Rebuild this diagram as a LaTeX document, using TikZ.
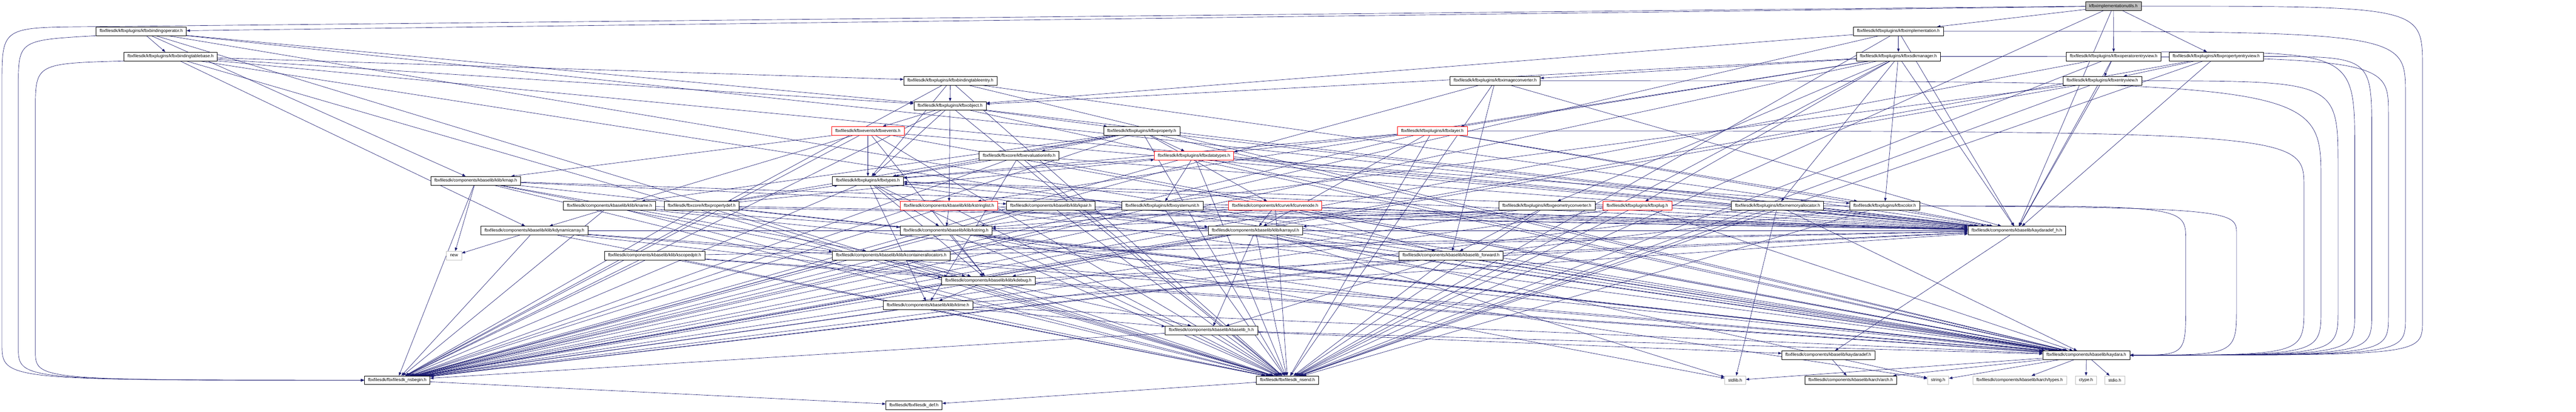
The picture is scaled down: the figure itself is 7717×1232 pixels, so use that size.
\documentclass[tikz,border=0pt]{standalone}
\usepackage{fontspec}
\setmainfont{Liberation Sans}
\usetikzlibrary{arrows.meta}
\pgfdeclarelayer{paper}
\pgfdeclarelayer{edges}
\pgfsetlayers{paper,edges,main}
\definecolor{edgeblue}{HTML}{191970}
\definecolor{sysgray}{HTML}{BFBFBF}

\begin{document}
\begin{tikzpicture}[x=1pt,y=-1pt,
  >={Triangle[length=10pt,width=7.5pt]},
  hfile/.style={draw=black, fill=white, line width=1pt, inner xsep=11pt, inner ysep=0pt,
    minimum height=26pt, font=\fontsize{12.9}{14}\selectfont},
  redfile/.style={hfile, draw=red},
  sysfile/.style={hfile, draw=sysgray},
  rootfile/.style={hfile, fill=sysgray}]

            \begin{pgfonlayer}{paper}
            \fill[white] (0,0) rectangle (7717,1232);
            \end{pgfonlayer}
            \useasboundingbox (0,0) rectangle (7717,1232);

            % row 0 - 2
            \node[rootfile] (root) at (6331,18.5) {kfbximplementationutils.h};
            \node[hfile] (bindop) at (423,93.5) {fbxfilesdk/kfbxplugins/kfbxbindingoperator.h};
            \node[hfile] (impl) at (5687,93.5) {fbxfilesdk/kfbxplugins/kfbximplementation.h};
            \node[hfile] (tablebase) at (511,169) {fbxfilesdk/kfbxplugins/kfbxbindingtablebase.h};
            \node[hfile] (sdkman) at (5687,169) {fbxfilesdk/kfbxplugins/kfbxsdkmanager.h};
            \node[hfile] (opview) at (6332,169) {fbxfilesdk/kfbxplugins/kfbxoperatorentryview.h};
            \node[hfile] (propview) at (6639,169) {fbxfilesdk/kfbxplugins/kfbxpropertyentryview.h};

            % row 3 - 7
            \node[hfile] (tableentry) at (2847,242) {fbxfilesdk/kfbxplugins/kfbxbindingtableentry.h};
            \node[hfile] (imgconv) at (4479,242) {fbxfilesdk/kfbxplugins/kfbximageconverter.h};
            \node[hfile] (entryview) at (6298,242) {fbxfilesdk/kfbxplugins/kfbxentryview.h};
            \node[hfile] (object) at (2846,317) {fbxfilesdk/kfbxplugins/kfbxobject.h};
            \node[redfile] (events) at (2600,392) {fbxfilesdk/kfbxevents/kfbxevents.h};
            \node[hfile] (property) at (3420,392) {fbxfilesdk/kfbxplugins/kfbxproperty.h};
            \node[redfile] (layer) at (4291,392) {fbxfilesdk/kfbxplugins/kfbxlayer.h};
            \node[hfile] (evalinfo) at (3053,466) {fbxfilesdk/fbxcore/kfbxevaluationinfo.h};
            \node[redfile] (datatypes) at (3577,466) {fbxfilesdk/kfbxplugins/kfbxdatatypes.h};
            \node[hfile] (kmap) at (1425,541) {fbxfilesdk/components/kbaselib/klib/kmap.h};
            \node[hfile] (types) at (2600,541) {fbxfilesdk/kfbxplugins/kfbxtypes.h};

            % row 8
            \node[hfile] (kname) at (1826,616) {fbxfilesdk/components/kbaselib/klib/kname.h};
            \node[hfile] (propdef) at (2102,616) {fbxfilesdk/fbxcore/kfbxpropertydef.h};
            \node[redfile] (stringlist) at (2843,616) {fbxfilesdk/components/kbaselib/klib/kstringlist.h};
            \node[hfile] (kpair) at (3148,616) {fbxfilesdk/components/kbaselib/klib/kpair.h};
            \node[hfile] (sysunit) at (3482,616) {fbxfilesdk/kfbxplugins/kfbxsystemunit.h};
            \node[redfile] (curvenode) at (3820,616) {fbxfilesdk/components/kfcurve/kfcurvenode.h};
            \node[hfile] (geomconv) at (4634,616) {fbxfilesdk/kfbxplugins/kfbxgeometryconverter.h};
            \node[redfile] (plug) at (4905,616) {fbxfilesdk/kfbxplugins/kfbxplug.h};
            \node[hfile] (memalloc) at (5325,616) {fbxfilesdk/kfbxplugins/kfbxmemoryallocator.h};
            \node[hfile] (color) at (5646,616) {fbxfilesdk/kfbxplugins/kfbxcolor.h};

            % row 9 - 13
            \node[hfile] (dynarray) at (1601,690) {fbxfilesdk/components/kbaselib/klib/kdynamicarray.h};
            \node[hfile] (kstring) at (2834,690) {fbxfilesdk/components/kbaselib/klib/kstring.h};
            \node[hfile] (arrayul) at (3761,690) {fbxfilesdk/components/kbaselib/klib/karrayul.h};
            \node[hfile] (kaydaradefh) at (6042,690) {fbxfilesdk/components/kbaselib/kaydaradef\_h.h};
            \node[sysfile] (new) at (1360,765) {new};
            \node[hfile] (scopedptr) at (1961,765) {fbxfilesdk/components/kbaselib/klib/kscopedptr.h};
            \node[hfile] (contalloc) at (2670,765) {fbxfilesdk/components/kbaselib/klib/kcontainerallocators.h};
            \node[hfile] (forward) at (4347,765) {fbxfilesdk/components/kbaselib/kbaselib\_forward.h};
            \node[hfile] (kdebug) at (2961,840) {fbxfilesdk/components/kbaselib/klib/kdebug.h};
            \node[hfile] (ktime) at (2780,914) {fbxfilesdk/components/kbaselib/klib/ktime.h};
            \node[hfile] (baselibh) at (3629,989) {fbxfilesdk/components/kbaselib/kbaselib\_h.h};

            % row 14 - 16
            \node[hfile] (kaydaradef) at (5477,1063) {fbxfilesdk/components/kbaselib/kaydaradef.h};
            \node[hfile] (kaydara) at (6250,1063) {fbxfilesdk/components/kbaselib/kaydara.h};
            \node[hfile] (nsbegin) at (1190,1138) {fbxfilesdk/fbxfilesdk\_nsbegin.h};
            \node[hfile] (nsend) at (3857,1138) {fbxfilesdk/fbxfilesdk\_nsend.h};
            \node[sysfile] (stdlib) at (5198,1138) {stdlib.h};
            \node[hfile] (arch) at (5544,1138) {fbxfilesdk/components/kbaselib/karch/arch.h};
            \node[sysfile] (string) at (5806,1138) {string.h};
            \node[sysfile] (archtypes) at (6050,1138) {fbxfilesdk/components/kbaselib/karch/types.h};
            \node[sysfile] (ctype) at (6249,1138) {ctype.h};
            \node[sysfile] (stdio) at (6335,1138) {stdio.h};
            \node[hfile] (fbxdef) at (2738,1213) {fbxfilesdk/fbxfilesdk\_def.h};

            \begin{pgfonlayer}{edges}
            \begin{scope}[edgeblue, line width=1pt]
            % long edges round the right side into kaydara.h
            \draw[->] (root.east) .. controls (7257,18.5) .. (7257,200) -- (7257,960) .. controls (7257,1063) .. (kaydara.east);
            \draw[->] (impl.east) .. controls (7206,93.5) .. (7206,280) -- (7206,950) .. controls (7206,1063) .. (kaydara.east);
            \draw[->] (sdkman.east) .. controls (7155,169) .. (7155,340) -- (7155,945) .. controls (7155,1063) .. (kaydara.east);
            \draw[->] (propview.east) .. controls (7105,169) .. (7105,400) -- (7105,940) .. controls (7105,1063) .. (kaydara.east);
            \draw[->] (opview.north east) .. controls (7054,156) .. (7054,450) -- (7054,935) .. controls (7054,1063) .. (kaydara.east);
            \draw[->] (entryview.east) .. controls (7004,242) .. (7004,500) -- (7004,930) .. controls (7004,1063) .. (kaydara.east);
            \draw[->] (imgconv.east) .. controls (6953,242) .. (6953,540) -- (6953,925) .. controls (6953,1063) .. (kaydara.east);
            \draw[->] (layer.east) .. controls (6902,392) .. (6902,560) -- (6902,920) .. controls (6902,1063) .. (kaydara.east);
            \draw[->] (geomconv.east) .. controls (6700,616) .. (6700,700) -- (6700,915) .. controls (6700,1063) .. (kaydara.east);
            \draw[->] (color.east) .. controls (6548,616) .. (6548,720) -- (6548,910) .. controls (6548,1063) .. (kaydara.east);
            % long edges round the left side into fbxfilesdk_nsbegin.h
            \draw[->] (root.west) -- (260,80) .. controls (6,82) .. (6,250) -- (6,1030) .. controls (6,1138) .. (nsbegin.west);
            \draw[->] (bindop.south west) .. controls (55,120) .. (55,260) -- (55,1040) .. controls (55,1138) .. (nsbegin.west);
            \draw[->] (tablebase.south west) .. controls (106,190) .. (106,330) -- (106,1050) .. controls (106,1138) .. (nsbegin.west);
            % kfbximplementationutils.h
            \draw[->] (root) -- (impl);
            \draw[->] (root) -- (bindop);
            \draw[->] (root) -- (opview);
            \draw[->] (root) -- (propview);
            \draw[->] (root) -- (kaydaradefh);
            \draw[->] (root) -- (nsend);
            % kfbximplementation.h
            \draw[->] (impl) -- (sdkman);
            \draw[->] (impl) -- (object);
            \draw[->] (impl) -- (kaydaradefh);
            \draw[->] (impl) -- (nsbegin);
            \draw[->] (impl) -- (nsend);
            % kfbxbindingoperator.h
            \draw[->] (bindop) -- (tablebase);
            \draw[->] (bindop) -- (object);
            \draw[->] (bindop) -- (kmap);
            \draw[->] (bindop) -- (kaydaradefh);
            \draw[->] (bindop) -- (kaydara);
            \draw[->] (bindop) -- (nsend);
            % kfbxbindingtablebase.h
            \draw[->] (tablebase) -- (tableentry);
            \draw[->] (tablebase) -- (object);
            \draw[->] (tablebase) -- (dynarray);
            \draw[->] (tablebase) -- (kaydaradefh);
            \draw[->] (tablebase) -- (kaydara);
            \draw[->] (tablebase) -- (nsend);
            % kfbxsdkmanager.h
            \draw[->] (sdkman) -- (object);
            \draw[->] (sdkman) -- (imgconv);
            \draw[->] (sdkman) -- (layer);
            \draw[->] (sdkman) -- (geomconv);
            \draw[->] (sdkman) -- (plug);
            \draw[->] (sdkman) -- (memalloc);
            \draw[->] (sdkman) -- (color);
            \draw[->] (sdkman) -- (stringlist);
            \draw[->] (sdkman) -- (kaydaradefh);
            \draw[->] (sdkman) -- (nsbegin);
            \draw[->] (sdkman) -- (nsend);
            % entry views
            \draw[->] (opview) -- (entryview);
            \draw[->] (opview) -- (kaydaradefh);
            \draw[->] (opview) -- (nsbegin);
            \draw[->] (opview) -- (nsend);
            \draw[->] (propview) -- (entryview);
            \draw[->] (propview) -- (kaydaradefh);
            \draw[->] (propview) -- (nsbegin);
            \draw[->] (propview) -- (nsend);
            \draw[->] (entryview) -- (kstring);
            \draw[->] (entryview) -- (kaydaradefh);
            \draw[->] (entryview) -- (nsbegin);
            \draw[->] (entryview) -- (nsend);
            % kfbxbindingtableentry.h
            \draw[->] (tableentry) -- (object);
            \draw[->] (tableentry) -- (types);
            \draw[->] (tableentry) -- (kaydaradefh);
            \draw[->] (tableentry) -- (kaydara);
            \draw[->] (tableentry) -- (nsbegin);
            \draw[->] (tableentry) -- (nsend);
            % kfbximageconverter.h
            \draw[->] (imgconv) -- (forward);
            \draw[->] (imgconv) -- (kaydaradefh);
            \draw[->] (imgconv) -- (nsbegin);
            \draw[->] (imgconv) -- (nsend);
            % kfbxobject.h
            \draw[->] (object) -- (events);
            \draw[->] (object) -- (property);
            \draw[->] (object) -- (stringlist);
            \draw[->] (object) -- (types);
            \draw[->] (object) -- (kaydaradefh);
            \draw[->] (object) -- (kaydara);
            \draw[->] (object) -- (nsbegin);
            \draw[->] (object) -- (nsend);
            % kfbxevents.h
            \draw[->] (events) -- (types);
            \draw[->] (events) -- (kmap);
            \draw[->] (events) -- (dynarray);
            \draw[->] (events) -- (kdebug);
            \draw[->] (events) -- (kaydaradefh);
            \draw[->] (events) -- (kaydara);
            \draw[->] (events) -- (nsbegin);
            \draw[->] (events) -- (nsend);
            % kfbxproperty.h
            \draw[->] (property) -- (evalinfo);
            \draw[->] (property) -- (datatypes);
            \draw[->] (property) -- (propdef);
            \draw[->] (property) -- (kname);
            \draw[->] (property) -- (curvenode);
            \draw[->] (property) -- (types);
            \draw[->] (property) -- (kaydaradefh);
            \draw[->] (property) -- (kaydara);
            \draw[->] (property) -- (nsbegin);
            \draw[->] (property) -- (nsend);
            % kfbxlayer.h
            \draw[->] (layer) -- (datatypes);
            \draw[->] (layer) -- (arrayul);
            \draw[->] (layer) -- (types);
            \draw[->] (layer) -- (color);
            \draw[->] (layer) -- (kaydaradefh);
            \draw[->] (layer) -- (nsbegin);
            \draw[->] (layer) -- (nsend);
            % kfbxevaluationinfo.h
            \draw[->] (evalinfo) -- (types);
            \draw[->] (evalinfo) -- (ktime);
            \draw[->] (evalinfo) -- (kaydaradefh);
            \draw[->] (evalinfo) -- (kaydara);
            \draw[->] (evalinfo) -- (nsbegin);
            \draw[->] (evalinfo) -- (nsend);
            % kfbxdatatypes.h
            \draw[->] (datatypes) -- (types);
            \draw[->] (datatypes) -- (sysunit);
            \draw[->] (datatypes) -- (color);
            \draw[->] (datatypes) -- (kaydaradefh);
            \draw[->] (datatypes) -- (kaydara);
            \draw[->] (datatypes) -- (nsbegin);
            \draw[->] (datatypes) -- (nsend);
            % kmap.h
            \draw[->] (kmap) -- (new);
            \draw[->] (kmap) -- (kpair);
            \draw[->] (kmap) -- (contalloc);
            \draw[->] (kmap) -- (kdebug);
            \draw[->] (kmap) -- (kaydaradefh);
            \draw[->] (kmap) -- (kaydara);
            \draw[->] (kmap) -- (nsbegin);
            \draw[->] (kmap) -- (nsend);
            % kfbxtypes.h
            \draw[->] (types) -- (kstring);
            \draw[->] (types) -- (ktime);
            \draw[->] (types) -- (kdebug);
            \draw[->] (types) -- (kaydaradefh);
            \draw[->] (types) -- (kaydara);
            \draw[->] (types) -- (nsbegin);
            \draw[->] (types) -- (nsend);
            % kname.h, kfbxpropertydef.h
            \draw[->] (kname) -- (kstring);
            \draw[->] (kname) -- (kaydaradefh);
            \draw[->] (kname) -- (kaydara);
            \draw[->] (kname) -- (nsbegin);
            \draw[->] (kname) -- (nsend);
            \draw[->] (propdef) -- (types);
            \draw[->] (propdef) -- (datatypes);
            \draw[->] (propdef) -- (kaydaradefh);
            \draw[->] (propdef) -- (kaydara);
            \draw[->] (propdef) -- (nsbegin);
            \draw[->] (propdef) -- (nsend);
            % kstringlist.h, kpair.h, kfbxsystemunit.h
            \draw[->] (stringlist) -- (kstring);
            \draw[->] (stringlist) -- (arrayul);
            \draw[->] (stringlist) -- (kaydaradefh);
            \draw[->] (stringlist) -- (kaydara);
            \draw[->] (stringlist) -- (nsbegin);
            \draw[->] (stringlist) -- (nsend);
            \draw[->] (kpair) -- (kaydaradefh);
            \draw[->] (kpair) -- (kaydara);
            \draw[->] (kpair) -- (nsbegin);
            \draw[->] (kpair) -- (nsend);
            \draw[->] (sysunit) -- (types);
            \draw[->] (sysunit) -- (kaydaradefh);
            \draw[->] (sysunit) -- (kaydara);
            \draw[->] (sysunit) -- (nsbegin);
            \draw[->] (sysunit) -- (nsend);
            % kfcurvenode.h, kfbxgeometryconverter.h
            \draw[->] (curvenode) -- (arrayul);
            \draw[->] (curvenode) -- (forward);
            \draw[->] (curvenode) -- (kstring);
            \draw[->] (curvenode) -- (kaydaradefh);
            \draw[->] (curvenode) -- (kaydara);
            \draw[->] (curvenode) -- (nsbegin);
            \draw[->] (curvenode) -- (nsend);
            \draw[->] (geomconv) -- (arrayul);
            \draw[->] (geomconv) -- (forward);
            \draw[->] (geomconv) -- (kaydaradefh);
            \draw[->] (geomconv) -- (nsbegin);
            \draw[->] (geomconv) -- (nsend);
            % kfbxplug.h, kfbxmemoryallocator.h, kfbxcolor.h
            \draw[->] (plug) -- (kstring);
            \draw[->] (plug) -- (types);
            \draw[->] (plug) -- (kaydaradefh);
            \draw[->] (plug) -- (kaydara);
            \draw[->] (plug) -- (nsbegin);
            \draw[->] (plug) -- (nsend);
            \draw[->] (memalloc) -- (stdlib);
            \draw[->] (memalloc) -- (kaydaradefh);
            \draw[->] (memalloc) -- (kaydara);
            \draw[->] (memalloc) -- (nsbegin);
            \draw[->] (memalloc) -- (nsend);
            \draw[->] (color) -- (kaydaradefh);
            \draw[->] (color) -- (nsbegin);
            \draw[->] (color) -- (nsend);
            % kdynamicarray.h
            \draw[->] (dynarray) -- (new);
            \draw[->] (dynarray) -- (contalloc);
            \draw[->] (dynarray) -- (kdebug);
            \draw[->] (dynarray) -- (kaydaradefh);
            \draw[->] (dynarray) -- (kaydara);
            \draw[->] (dynarray) -- (nsbegin);
            \draw[->] (dynarray) -- (nsend);
            % kstring.h
            \draw[->] (kstring) -- (kdebug);
            \draw[->] (kstring) -- (stdlib);
            \draw[->] (kstring) -- (string);
            \draw[->] (kstring) -- (kaydaradefh);
            \draw[->] (kstring) -- (kaydara);
            \draw[->] (kstring) -- (nsbegin);
            \draw[->] (kstring) -- (nsend);
            % karrayul.h
            \draw[->] (arrayul) -- (baselibh);
            \draw[->] (arrayul) -- (kdebug);
            \draw[->] (arrayul) -- (stdlib);
            \draw[->] (arrayul) -- (string);
            \draw[->] (arrayul) -- (kaydaradefh);
            \draw[->] (arrayul) -- (kaydara);
            \draw[->] (arrayul) -- (nsbegin);
            \draw[->] (arrayul) -- (nsend);
            % kscopedptr.h, kcontainerallocators.h, kbaselib_forward.h
            \draw[->] (scopedptr) -- (kdebug);
            \draw[->] (scopedptr) -- (kaydaradefh);
            \draw[->] (scopedptr) -- (kaydara);
            \draw[->] (scopedptr) -- (nsbegin);
            \draw[->] (scopedptr) -- (nsend);
            \draw[->] (contalloc) -- (kdebug);
            \draw[->] (contalloc) -- (kaydaradefh);
            \draw[->] (contalloc) -- (kaydara);
            \draw[->] (contalloc) -- (nsbegin);
            \draw[->] (contalloc) -- (nsend);
            \draw[->] (forward) -- (baselibh);
            \draw[->] (forward) -- (kaydaradefh);
            \draw[->] (forward) -- (kaydara);
            \draw[->] (forward) -- (nsbegin);
            \draw[->] (forward) -- (nsend);
            % kdebug.h, ktime.h, kbaselib_h.h
            \draw[->] (kdebug) -- (ktime);
            \draw[->] (kdebug) -- (baselibh);
            \draw[->] (kdebug) -- (kaydaradefh);
            \draw[->] (kdebug) -- (kaydara);
            \draw[->] (kdebug) -- (nsbegin);
            \draw[->] (kdebug) -- (nsend);
            \draw[->] (ktime) -- (baselibh);
            \draw[->] (ktime) -- (kaydaradefh);
            \draw[->] (ktime) -- (kaydara);
            \draw[->] (ktime) -- (nsbegin);
            \draw[->] (ktime) -- (nsend);
            \draw[->] (baselibh) -- (kaydaradef);
            \draw[->] (baselibh) -- (kaydara);
            \draw[->] (baselibh) -- (nsbegin);
            \draw[->] (baselibh) -- (nsend);
            % kaydara headers
            \draw[->] (kaydaradefh) -- (kaydaradef);
            \draw[->] (kaydaradef) -- (arch);
            \draw[->] (kaydara) -- (archtypes);
            \draw[->] (kaydara) -- (ctype);
            \draw[->] (kaydara) -- (stdio);
            \draw[->] (kaydara) -- (stdlib);
            \draw[->] (kaydara) -- (string);
            \draw[->] (kaydara) -- (arch);
            % namespace headers
            \draw[->] (nsbegin) -- (fbxdef);
            \draw[->] (nsend) -- (fbxdef);
            \end{scope}
            \end{pgfonlayer}
        \end{tikzpicture}
\end{document}
